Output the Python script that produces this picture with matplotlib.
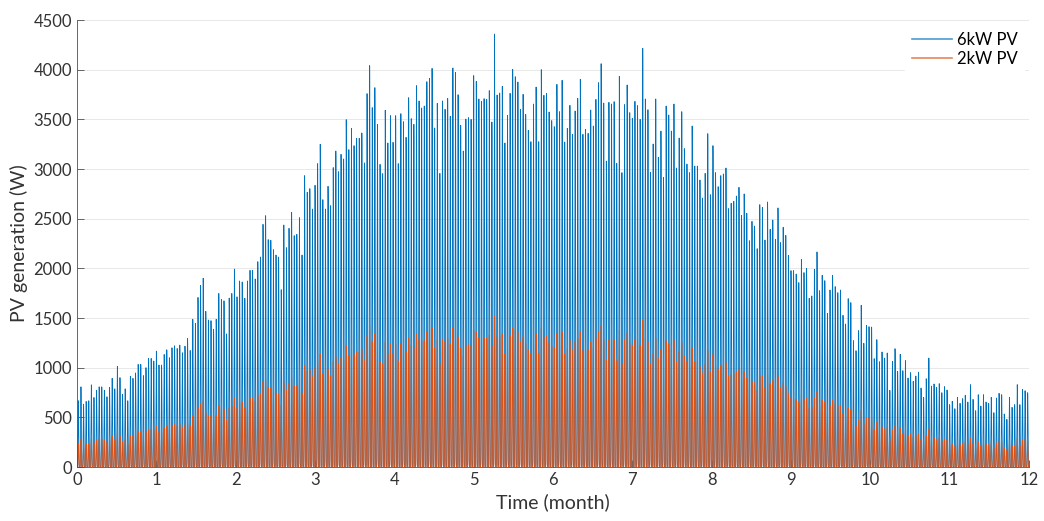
import numpy as np
import matplotlib
matplotlib.use('Agg')
from matplotlib import pyplot as plt

plt.rcParams['font.family'] = ['Lato', 'DejaVu Sans']

# daily peak output of the 6kW system (W), Jan -> Dec
peaks_6kw = [
    # months 0-2
    667, 807, 633, 660, 667, 827, 700, 773, 807, 807, 773, 707, 800, 893, 787, 1013,
    900, 733, 787, 667, 913, 893, 947, 1033, 1033, 920, 1000, 1093, 1093, 1067, 1167,
    1027, 1027, 1133, 1180, 1100, 1200, 1220, 1193, 1227, 1150, 1217, 1293, 1173, 1487,
    1447, 1707, 1827, 1900, 1567, 1480, 1473, 1387, 1487, 1747, 1687, 1673, 1340, 1700,
    1747, 1993, 1713, 1873,
    # months 2-4
    1863, 1698, 1873, 1980, 1980, 1893, 2067, 2114, 2443, 2530, 2289, 2282, 2188, 2134,
    2114, 1785, 2436, 2208, 2403, 2564, 2329, 2342, 2510, 2134, 2933, 2765, 2802, 2597,
    2836, 3054, 3249, 2691, 2597, 2826, 2631, 3014, 3181, 2973, 3148, 3101, 3497, 3195,
    3410, 3235, 3309, 3309, 3363, 3061, 3759, 4041, 3618, 3819, 3450, 3047, 2953, 3591,
    3262, 3537, 3269, 3537, 3054,
    # months 4-6
    3557, 3476, 3319, 3718, 3507, 3450, 3839, 3685, 3614, 3634, 3879, 3913, 4013, 3413,
    3661, 2956, 3685, 3601, 3711, 3530, 4017, 3973, 3748, 3440, 3181, 3503, 3517, 3500,
    3940, 3882, 3705, 3681, 3708, 3701, 3789, 3473, 4359, 3745, 3765, 3832, 3262, 3540,
    3762, 4003, 3929, 3876, 3601, 3752, 3550, 3389, 3275, 3654, 3825, 3275, 4000, 3742,
    3762, 3574, 3487, 3426,
    # months 6-8
    3852, 3577, 3893, 3272, 3409, 3641, 3349, 3584, 3711, 3903, 3349, 3399, 3359, 3594,
    3433, 3701, 3869, 4060, 3664, 3080, 3671, 3654, 3678, 3057, 3933, 2963, 3648, 3846,
    3567, 3510, 3681, 3638, 3500, 4215, 3705, 3597, 2966, 3252, 3705, 3117, 3382, 2916,
    3634, 3544, 3382, 3654, 3010, 3312, 3577, 3205, 3050, 2963, 3433, 3030, 3030, 2889,
    2708, 2956, 3356, 2741, 3235,
    # months 8-10
    2963, 2822, 2933, 2950, 3010, 2601, 2655, 2675, 2728, 2816, 2534, 2749, 2554, 2278,
    2473, 2426, 2198, 2641, 2614, 2285, 2668, 2393, 2487, 2292, 2608,
    2259, 2413, 2332, 2131, 1977, 1977, 1943, 1856, 2091, 1957, 2000, 1698, 1722, 1990,
    2165, 1775, 1930, 1876, 1547, 1782, 1930, 1816, 1755, 1782, 1527, 1440, 1695, 1655,
    1272, 1171, 1373, 1628, 1245, 1426, 1413,
    # months 10-12
    1409, 1091, 1282, 1060, 1158, 1097, 1148, 772, 1064, 1191, 963, 1134, 970, 1071,
    896, 950, 862, 916, 956, 795, 701, 889, 1097, 815, 836, 802, 839, 748, 809, 775,
    628, 661, 587, 701, 641, 688, 722, 654, 829, 681, 567, 728, 614, 728, 654, 641,
    701, 547, 695, 742, 728, 534, 480, 701, 601, 628, 829, 628, 782, 768, 748,
]

# 2kW system peaks relative to the 6kW system (~0.35)
ratio_2kw = 0.35

# normalised hourly shape of one day
day_profile = [0, 0, 0, 0, 0, 0.02, 0.1, 0.28, 0.5, 0.7, 0.86, 0.96,
               1.0, 0.96, 0.86, 0.7, 0.5, 0.28, 0.1, 0.02, 0, 0, 0, 0]

labels = ['6kW PV', '2kW PV']
colors = ['#0072BD', '#D95319']

# build hourly series
p6 = np.outer(np.array(peaks_6kw), np.array(day_profile)).ravel()
p2 = p6 * ratio_2kw
n = len(p6)
t = np.arange(n) * 12.0 / n

fig = plt.figure(figsize=(10.44, 5.21), dpi=100)
ax = fig.add_axes([0.0738, 0.1036, 0.9118, 0.858])

ax.plot(t, p6, color=colors[0], linewidth=0.6, label=labels[0])
ax.plot(t, p2, color=colors[1], linewidth=0.6, label=labels[1])

ax.set_xlim(0, 12)
ax.set_ylim(0, 4500)
ax.set_xticks(range(0, 13))
ax.set_yticks(range(0, 4501, 500))

ax.grid(axis='y', color='#262626', alpha=0.12, linewidth=0.6)
ax.set_axisbelow(True)

for side in ['top', 'right']:
    ax.spines[side].set_visible(False)
for side in ['left', 'bottom']:
    ax.spines[side].set_color('#4d4d4d')
    ax.spines[side].set_linewidth(0.6)

ax.tick_params(direction='in', length=5, width=0.6, colors='#4d4d4d',
               labelcolor='#333333', labelsize=12)

ax.set_xlabel('Time (month)', fontsize=14, color='#333333')
ax.set_ylabel('PV generation (W)', fontsize=14, color='#333333')

leg = ax.legend(loc='upper right', frameon=True, fontsize=12,
                handlelength=2.4, handletextpad=0.3, borderaxespad=0.3,
                labelspacing=0.2)
leg.get_frame().set_edgecolor('white')
leg.get_frame().set_facecolor('white')
leg.get_frame().set_alpha(1.0)
for line in leg.get_lines():
    line.set_linewidth(1.2)
    line.set_alpha(0.7)

plt.savefig('out.png', dpi=100)
